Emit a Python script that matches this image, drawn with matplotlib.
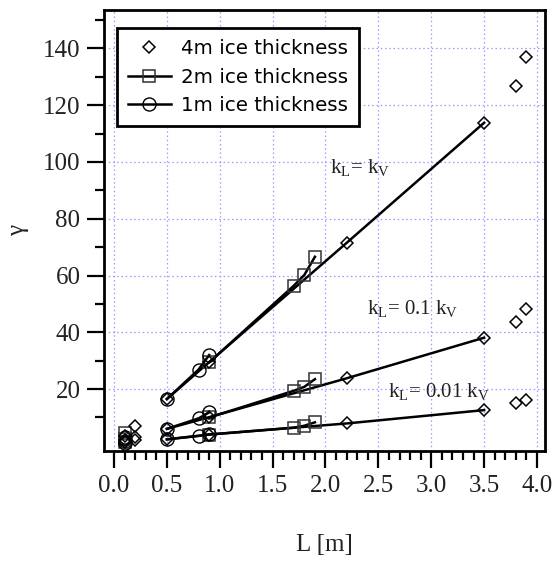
import matplotlib
matplotlib.use("Agg")
import matplotlib.pyplot as plt
from matplotlib.ticker import MultipleLocator, FixedLocator

plt.rcParams["mathtext.fontset"] = "custom"
plt.rcParams["mathtext.rm"] = "Liberation Serif"
plt.rcParams["mathtext.it"] = "Liberation Serif:italic"

SERIF = "Liberation Serif"

# Ratio cases k_L / k_V: 1, 0.1, 0.01 (one gamma list per case)
L_1m = [0.1, 0.5, 0.8, 0.9]
g_1m = {
    "1": [3.2, 16.5, 26.9, 32.0],
    "0.1": [1.6, 6.0, 9.7, 11.8],
    "0.01": [1.0, 2.3, 3.5, 4.1],
}

L_2m = [0.1, 0.9, 1.7, 1.8, 1.9]
g_2m = {
    "1": [4.4, 29.4, 56.4, 60.2, 66.6],
    "0.1": [2.4, 10.0, 19.4, 20.8, 23.5],
    "0.01": [1.4, 4.0, 6.4, 7.1, 8.3],
}

L_4m = [0.1, 0.2, 0.5, 0.9, 2.2, 3.5, 3.8, 3.9]
g_4m = {
    "1": [3.6, 7.0, 16.5, 29.5, 71.5, 113.8, 126.8, 137.1],
    "0.1": [2.0, 3.0, 6.0, 10.1, 23.8, 38.1, 43.6, 48.2],
    "0.01": [1.2, 2.0, 2.3, 4.0, 7.9, 12.6, 15.0, 16.1],
}
# range of L over which the 4m results are joined by a line
L_4m_line = (0.5, 3.5)

case_labels = {
    "1": r"k$_\mathrm{L}$= k$_\mathrm{V}$",
    "0.1": r"k$_\mathrm{L}$= 0.1 k$_\mathrm{V}$",
    "0.01": r"k$_\mathrm{L}$= 0.01 k$_\mathrm{V}$",
}
case_label_pos = {"1": (2.04, 96.0), "0.1": (2.39, 46.3), "0.01": (2.59, 17.1)}

x_ticks = [0.0, 0.5, 1.0, 1.5, 2.0, 2.5, 3.0, 3.5, 4.0]
y_ticks = [20, 40, 60, 80, 100, 120, 140]

W, H = 557, 563
fig = plt.figure(figsize=(W / 100, H / 100), dpi=100)
ax = fig.add_axes([104 / W, 1 - 451 / H, (545 - 104) / W, (451 - 10) / H])

LW = 1.8
for case in ["1", "0.1", "0.01"]:
    # 4m: joined only over the central range
    sub = [(x, y) for x, y in zip(L_4m, g_4m[case]) if L_4m_line[0] <= x <= L_4m_line[1]]
    ax.plot([p[0] for p in sub], [p[1] for p in sub], "-", color="black", lw=LW, zorder=2)
    ax.plot(L_4m, g_4m[case], linestyle="none", marker="D", ms=6.6, mfc="none",
            mec="black", mew=1.1, zorder=4)
    # 2m
    ax.plot(L_2m[1:], g_2m[case][1:], "-", color="black", lw=LW, zorder=2)
    ax.plot(L_2m, g_2m[case], linestyle="none", marker="s", ms=8.6, mfc="none",
            mec="#333333", mew=1.1, zorder=3)
    # 1m
    ax.plot(L_1m[1:], g_1m[case][1:], "-", color="black", lw=LW, zorder=2)
    ax.plot(L_1m, g_1m[case], linestyle="none", marker="o", ms=9.4, mfc="none",
            mec="black", mew=1.0, zorder=3)
    tx, ty = case_label_pos[case]
    ax.text(tx, ty, case_labels[case], fontsize=15, family=SERIF, color="#222222",
            ha="left", va="baseline", zorder=5)

# legend handles
h4, = ax.plot([], [], linestyle="none", marker="D", ms=6.6, mfc="none", mec="black", mew=1.1)
h2, = ax.plot([], [], "-", color="black", lw=LW, marker="s", ms=8.6, mfc="none",
              mec="#333333", mew=1.1)
h1, = ax.plot([], [], "-", color="black", lw=LW, marker="o", ms=9.4, mfc="none",
              mec="black", mew=1.0)
leg = ax.legend([h4, h2, h1], ["4m ice thickness", "2m ice thickness", "1m ice thickness"],
                loc="upper left", bbox_to_anchor=((116.7 - 104) / 441, (451 - 28.3) / 441),
                borderaxespad=0, frameon=True, fancybox=False, framealpha=1,
                edgecolor="black", prop={"family": "DejaVu Sans", "size": 14.3},
                handlelength=2.2, handletextpad=0.5, labelspacing=0.48,
                borderpad=0.55, numpoints=1)
leg.get_frame().set_linewidth(2.0)
leg.set_zorder(10)

ax.set_xlim(-0.0946, 4.0757)
ax.set_ylim(-1.8, 153.5)
ax.xaxis.set_major_locator(FixedLocator(x_ticks))
ax.xaxis.set_minor_locator(MultipleLocator(0.1))
ax.yaxis.set_major_locator(FixedLocator(y_ticks))
ax.yaxis.set_minor_locator(FixedLocator([10, 30, 50, 70, 90, 110, 130, 150]))
ax.set_xticklabels([f"{v:.1f}" for v in x_ticks])
ax.set_yticklabels([str(v) for v in y_ticks])

ax.grid(True, which="major", color="#9a9aff", linestyle=(0, (1.2, 2.2)), linewidth=0.9)
ax.set_axisbelow(True)

ax.tick_params(which="both", direction="out", top=False, right=False, width=1.6,
               colors="black")
ax.tick_params(which="major", length=12, pad=5, labelsize=18)
ax.tick_params(which="minor", length=6.2)
for lab in ax.get_xticklabels() + ax.get_yticklabels():
    lab.set_family(SERIF)
    lab.set_color("#222222")
for sp in ax.spines.values():
    sp.set_linewidth(2.0)

ax.set_xlabel("L [m]", family=SERIF, fontsize=18, labelpad=27, color="#222222")
ax.set_ylabel("γ", family=SERIF, fontsize=18, labelpad=10, color="#222222")

fig.savefig("out.png", dpi=100)
